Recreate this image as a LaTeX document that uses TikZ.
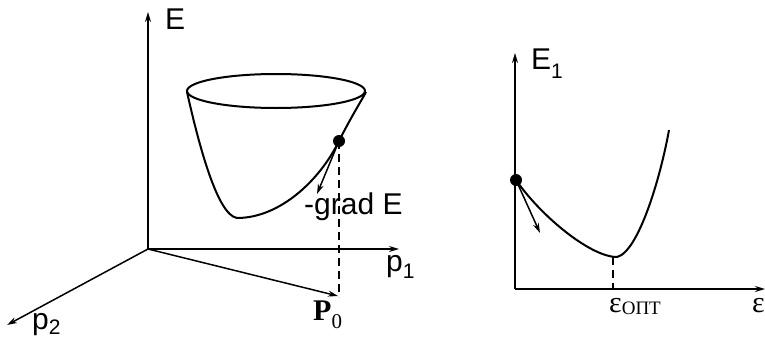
\documentclass[tikz,border=0pt]{standalone}
\usepackage{fontspec}
\setmainfont{Liberation Sans}
\newfontfamily\seriffont{Liberation Serif}
\usetikzlibrary{arrows.meta}
\newcommand{\lblsub}[2][-8pt]{\raisebox{#1}{\fontsize{21}{21}\selectfont #2}}
\tikzset{
  axis/.style={line width=1.5pt, -{Stealth[length=10pt,width=6pt]}},
  curve/.style={line width=2pt},
  vec/.style={line width=1.5pt, -{Stealth[length=10pt,width=6pt]}},
  guide/.style={line width=1.3pt, dash pattern=on 8pt off 5pt},
  lbl/.style={inner sep=0pt, anchor=base west, font=\fontsize{30}{32}\selectfont},
  slbl/.style={inner sep=0pt, anchor=base west, font=\fontsize{30}{32}\selectfont\seriffont},
  pt/.style={circle, fill=black, inner sep=0pt, minimum size=12pt}
}
\begin{document}
\begin{tikzpicture}[x=1pt,y=-1pt]
\useasboundingbox (0,0) rectangle (765,340);
% ---------- left 3D plot ----------
\coordinate (O) at (148,249);
\coordinate (Etop) at (148,12);
\coordinate (p1end) at (399,249);
\coordinate (p2end) at (7,325);
\coordinate (P0) at (338,296);
\draw[axis] (O) -- (Etop);
\draw[axis] (O) -- (p1end);
\draw[axis] (O) -- (p2end);
\draw[vec] (O) -- (P0);
% bowl
\draw[curve] (276,91) ellipse [x radius=89, y radius=17];
\coordinate (bl) at (187,92);
\coordinate (br) at (366,92);
\coordinate (bottom) at (237,218);
\node[pt] (dot) at (339,141) {};
\draw[curve] (bl) .. controls (200,150) and (218,215) .. (bottom)
  .. controls (280,218) and (320,180) .. (dot.center)
  .. controls (350,119) and (360,103) .. (br);
\coordinate (gradtip) at (317,194);
\draw[vec] (dot.center) -- (gradtip);
\coordinate (dashend) at (339,297);
\draw[guide] (dot.center) -- (dashend);
% labels
\node[lbl] (E) at (165,29) {E};
\node[lbl] (grad) at (304,214) {-grad E};
\node[lbl] (p1) at (386,271) {p\lblsub[-7pt]{1}};
\node[lbl] (p2) at (32,329) {p\lblsub[-5pt]{2}};
\node[slbl] (P0lbl) at (313,320) {\textbf{P}\raisebox{-8pt}{\fontsize{21}{21}\selectfont 0}};
% ---------- right 2D plot ----------
\coordinate (O2) at (515,289);
\coordinate (E1top) at (515,53);
\coordinate (epsend) at (765,289);
\draw[axis] (O2) -- (E1top);
\draw[axis] (O2) -- (epsend);
\node[pt] (dot2) at (516,180) {};
\coordinate (min) at (617,257);
\coordinate (cend) at (669,130);
\draw[curve] (dot2.center) .. controls (540,215) and (590,257) .. (min)
  .. controls (638,252) and (660,180) .. (cend);
\coordinate (tantip) at (540,233);
\draw[vec] (dot2.center) -- (tantip);
\coordinate (minfoot) at (613,289);
\draw[guide] (613,257) -- (minfoot);
\node[lbl] (E1) at (531,69) {E\lblsub[-9pt]{1}};
\node[slbl] (eopt) at (609,312) {ε\raisebox{-2pt}{\fontsize{19}{19}\selectfont ОПТ}};
\node[slbl] (eps) at (752,312) {ε};
\end{tikzpicture}
\end{document}
